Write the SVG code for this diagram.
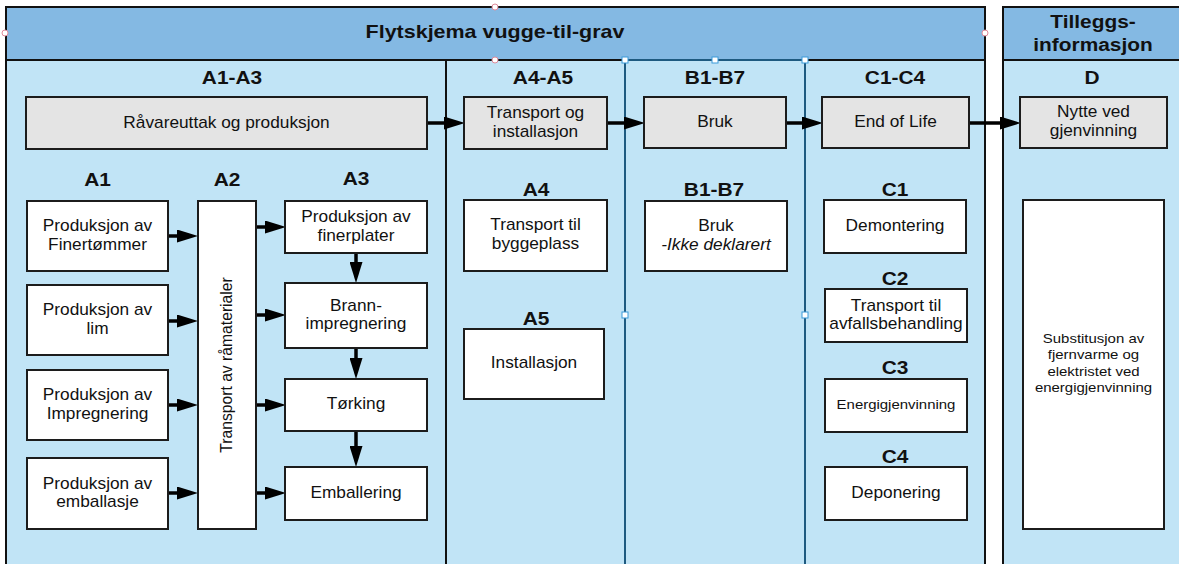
<svg xmlns="http://www.w3.org/2000/svg" width="1179" height="564" viewBox="0 0 1179 564">
<defs>
<style>
.hdr{fill:#84b9e3;stroke:#111;stroke-width:2}
.body{fill:#c1e4f6;stroke:#111;stroke-width:2}
.box{fill:#ffffff;stroke:#1c1c1c;stroke-width:2}
.gbox{fill:#e4e4e4;stroke:#1c1c1c;stroke-width:2}
text{font-family:"Liberation Sans",Arial,sans-serif;fill:#111;text-anchor:middle}
.t{font-size:15.7px}
.s{font-size:13.6px}
.lb{font-size:18.5px;font-weight:bold}
.ti{font-size:19px;font-weight:bold}
.ti2{font-size:18.5px;font-weight:bold}
.arr{stroke:#000;stroke-width:3.5;fill:none;marker-end:url(#ah)}
.div{stroke:#1e5a80;stroke-width:2}
.hd{fill:#fff;stroke:#3a9ad9;stroke-width:1}
.hc{fill:#fff;stroke:#e08a9a;stroke-width:1}
</style>
<marker id="ah" markerUnits="userSpaceOnUse" markerWidth="21" markerHeight="13" refX="10" refY="6.5" orient="auto">
<path d="M0,0 L21,6.5 L0,13 z" fill="#000"/>
</marker>
</defs>

<g id="frame-main">
<rect class="body" x="6" y="7" width="979" height="570"/>
<rect class="hdr" x="6" y="7" width="979" height="53"/>
<text class="ti" transform="translate(495 38) scale(1.13 1)">Flytskjema vugge-til-grav</text>
<line x1="446" y1="60" x2="446" y2="570" stroke="#111" stroke-width="2"/>
<line class="div" x1="625" y1="60" x2="625" y2="570"/>
<line class="div" x1="805" y1="60" x2="805" y2="570"/>
<line class="div" x1="625" y1="60" x2="805" y2="60"/>
</g>

<g id="frame-extra">
<rect class="body" x="1003" y="7" width="190" height="570"/>
<rect class="hdr" x="1003" y="7" width="190" height="53"/>
<text class="ti2" transform="translate(1093 28) scale(1.13 1)"><tspan x="0" y="0">Tilleggs-</tspan><tspan x="0" y="23">informasjon</tspan></text>
</g>

<g id="column-labels">
<text class="lb" transform="translate(232 83.5) scale(1.13 1)">A1-A3</text>
<text class="lb" transform="translate(543 83.5) scale(1.13 1)">A4-A5</text>
<text class="lb" transform="translate(715 83.5) scale(1.13 1)">B1-B7</text>
<text class="lb" transform="translate(895 83.5) scale(1.13 1)">C1-C4</text>
<text class="lb" transform="translate(1092 83.5) scale(1.13 1)">D</text>
<text class="lb" transform="translate(97.5 186) scale(1.13 1)">A1</text>
<text class="lb" transform="translate(227 186) scale(1.13 1)">A2</text>
<text class="lb" transform="translate(356 185) scale(1.13 1)">A3</text>
<text class="lb" transform="translate(536 196) scale(1.13 1)">A4</text>
<text class="lb" transform="translate(536 324.5) scale(1.13 1)">A5</text>
<text class="lb" transform="translate(714 196) scale(1.13 1)">B1-B7</text>
<text class="lb" transform="translate(895 196) scale(1.13 1)">C1</text>
<text class="lb" transform="translate(895 284.5) scale(1.13 1)">C2</text>
<text class="lb" transform="translate(895 373.5) scale(1.13 1)">C3</text>
<text class="lb" transform="translate(895 462.5) scale(1.13 1)">C4</text>
</g>

<g id="connectors">
<line class="arr" x1="427" y1="123" x2="454" y2="123"/>
<line class="arr" x1="607" y1="123" x2="634" y2="123"/>
<line class="arr" x1="786" y1="123" x2="812" y2="123"/>
<line class="arr" x1="969" y1="123" x2="1010" y2="123"/>
<line class="arr" x1="168" y1="236" x2="187" y2="236"/>
<line class="arr" x1="168" y1="321" x2="187" y2="321"/>
<line class="arr" x1="168" y1="405" x2="187" y2="405"/>
<line class="arr" x1="168" y1="493" x2="187" y2="493"/>
<line class="arr" x1="256" y1="227" x2="275" y2="227"/>
<line class="arr" x1="256" y1="315" x2="275" y2="315"/>
<line class="arr" x1="256" y1="405" x2="275" y2="405"/>
<line class="arr" x1="256" y1="493" x2="275" y2="493"/>
<line class="arr" x1="356" y1="253" x2="356" y2="272"/>
<line class="arr" x1="356" y1="348" x2="356" y2="368"/>
<line class="arr" x1="356" y1="431" x2="356" y2="456"/>
</g>

<g id="n-ravare"><rect class="gbox" x="26" y="97" width="401" height="52"/><text class="t" transform="translate(226.5 127.5) scale(1.1 1)">Råvareuttak og produksjon</text></g>
<g id="n-transport-inst"><rect class="gbox" x="464" y="97" width="143" height="52"/><text class="t" transform="translate(535.5 118) scale(1.1 1)"><tspan x="0" y="0">Transport og</tspan><tspan x="0" y="19">installasjon</tspan></text></g>
<g id="n-bruk-top"><rect class="gbox" x="644" y="97" width="142" height="51"/><text class="t" transform="translate(715 126.5) scale(1.1 1)">Bruk</text></g>
<g id="n-eol"><rect class="gbox" x="822" y="97" width="147" height="51"/><text class="t" transform="translate(895.5 126.5) scale(1.1 1)">End of Life</text></g>
<g id="n-nytte"><rect class="gbox" x="1020" y="97" width="147" height="51"/><text class="t" transform="translate(1093.5 117) scale(1.1 1)"><tspan x="0" y="0">Nytte ved</tspan><tspan x="0" y="19">gjenvinning</tspan></text></g>

<g id="n-a1-finer"><rect class="box" x="27" y="201" width="141" height="70"/><text class="t" transform="translate(97.5 231) scale(1.1 1)"><tspan x="0" y="0">Produksjon av</tspan><tspan x="0" y="19">Finertømmer</tspan></text></g>
<g id="n-a1-lim"><rect class="box" x="27" y="285" width="141" height="70"/><text class="t" transform="translate(97.5 315) scale(1.1 1)"><tspan x="0" y="0">Produksjon av</tspan><tspan x="0" y="19">lim</tspan></text></g>
<g id="n-a1-impr"><rect class="box" x="27" y="370" width="141" height="70"/><text class="t" transform="translate(97.5 400) scale(1.1 1)"><tspan x="0" y="0">Produksjon av</tspan><tspan x="0" y="19">Impregnering</tspan></text></g>
<g id="n-a1-emb"><rect class="box" x="27" y="458" width="141" height="71"/><text class="t" transform="translate(97.5 488.5) scale(1.1 1)"><tspan x="0" y="0">Produksjon av</tspan><tspan x="0" y="19">emballasje</tspan></text></g>

<g id="n-a2"><rect class="box" x="198" y="201" width="58" height="328"/><text class="t" transform="translate(231.5 365) rotate(-90)">Transport av råmaterialer</text></g>

<g id="n-a3-finer"><rect class="box" x="285" y="201" width="142" height="52"/><text class="t" transform="translate(356 222) scale(1.1 1)"><tspan x="0" y="0">Produksjon av</tspan><tspan x="0" y="19">finerplater</tspan></text></g>
<g id="n-a3-brann"><rect class="box" x="285" y="283" width="142" height="65"/><text class="t" transform="translate(356 310.5) scale(1.1 1)"><tspan x="0" y="0">Brann-</tspan><tspan x="0" y="19">impregnering</tspan></text></g>
<g id="n-a3-tork"><rect class="box" x="285" y="379" width="142" height="52"/><text class="t" transform="translate(356 409) scale(1.1 1)">Tørking</text></g>
<g id="n-a3-emb"><rect class="box" x="285" y="467" width="142" height="53"/><text class="t" transform="translate(356 497.5) scale(1.1 1)">Emballering</text></g>

<g id="n-a4"><rect class="box" x="464" y="200" width="143" height="71"/><text class="t" transform="translate(535.5 230) scale(1.1 1)"><tspan x="0" y="0">Transport til</tspan><tspan x="0" y="19">byggeplass</tspan></text></g>
<g id="n-a5"><rect class="box" x="464" y="329" width="140" height="70"/><text class="t" transform="translate(534 367.5) scale(1.1 1)">Installasjon</text></g>
<g id="n-b"><rect class="box" x="645" y="201" width="142" height="70"/><text class="t" transform="translate(716 231) scale(1.1 1)"><tspan x="0" y="0">Bruk</tspan><tspan x="0" y="19" font-style="italic">-Ikke deklarert</tspan></text></g>

<g id="n-c1"><rect class="box" x="824" y="200" width="142" height="53"/><text class="t" transform="translate(895 230.5) scale(1.1 1)">Demontering</text></g>
<g id="n-c2"><rect class="box" x="825" y="289" width="142" height="53"/><text class="t" transform="translate(896 310.5) scale(1.1 1)"><tspan x="0" y="0">Transport til</tspan><tspan x="0" y="19">avfallsbehandling</tspan></text></g>
<g id="n-c3"><rect class="box" x="825" y="379" width="142" height="53"/><text class="s" transform="translate(896 408.5) scale(1.1 1)">Energigjenvinning</text></g>
<g id="n-c4"><rect class="box" x="825" y="467" width="142" height="53"/><text class="t" transform="translate(896 497.5) scale(1.1 1)">Deponering</text></g>

<g id="n-d"><rect class="box" x="1023" y="200" width="141" height="329"/><text class="s" transform="translate(1093.5 343) scale(1.1 1)"><tspan x="0" y="0">Substitusjon av</tspan><tspan x="0" y="16.3">fjernvarme og</tspan><tspan x="0" y="32.6">elektristet ved</tspan><tspan x="0" y="48.9">energigjenvinning</tspan></text></g>

<g id="handles">
<circle class="hc" cx="495" cy="7" r="3"/>
<circle class="hc" cx="495" cy="60" r="3"/>
<circle class="hc" cx="5" cy="33" r="3"/>
<circle class="hc" cx="985" cy="33" r="3"/>
<rect class="hd" x="622" y="57" width="6" height="6"/>
<rect class="hd" x="712" y="57" width="6" height="6"/>
<rect class="hd" x="802" y="57" width="6" height="6"/>
<rect class="hd" x="622" y="312" width="6" height="6"/>
<rect class="hd" x="802" y="312" width="6" height="6"/>
</g>
</svg>
